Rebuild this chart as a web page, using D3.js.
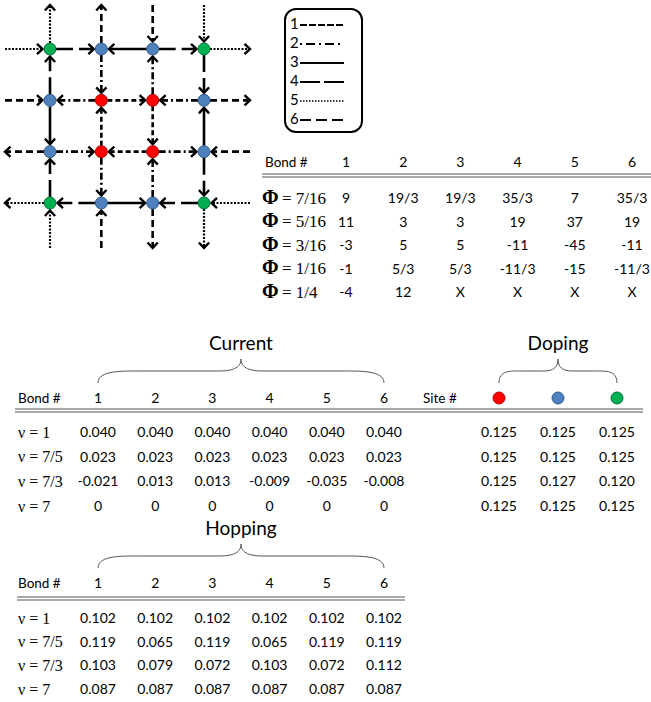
<!DOCTYPE html>
<html>
<head>
<meta charset="utf-8">
<script src="https://cdn.jsdelivr.net/npm/d3@7/dist/d3.min.js"></script>
<style>
  body { margin: 0; background: #fff; }
  svg { display: block; }
</style>
</head>
<body>
<div id="fig"></div>
<script>
// ---- data ----
// site colours on the 4x4 lattice, row by row (g = green, b = blue, r = red)
var siteRows = [
    ["g", "b", "b", "g"],
    ["b", "r", "r", "b"],
    ["b", "r", "r", "b"],
    ["g", "b", "b", "g"]
];
// bonds inside the lattice: [fromRow, fromCol, toRow, toCol, bondType], arrow points at "to"
var bonds = [
    [0, 0, 0, 1, 4], [0, 2, 0, 1, 3], [0, 2, 0, 3, 4],
    [1, 1, 1, 0, 2], [1, 1, 1, 2, 1], [1, 3, 1, 2, 2],
    [2, 0, 2, 1, 2], [2, 2, 2, 1, 1], [2, 2, 2, 3, 2],
    [3, 1, 3, 0, 4], [3, 1, 3, 2, 3], [3, 3, 3, 2, 4],
    [1, 0, 0, 0, 4], [1, 0, 2, 0, 3], [3, 0, 2, 0, 4],
    [0, 1, 1, 1, 2], [2, 1, 1, 1, 1], [2, 1, 3, 1, 2],
    [1, 2, 0, 2, 2], [1, 2, 2, 2, 1], [3, 2, 2, 2, 2],
    [0, 3, 1, 3, 4], [2, 3, 1, 3, 3], [2, 3, 3, 3, 4]
];
// boundary (periodic) bonds: [row, col, side, bondType, inward]
var stubs = [
    [0, 0, "top", 5, false], [0, 1, "top", 6, false], [0, 2, "top", 6, true], [0, 3, "top", 5, true],
    [3, 0, "bottom", 5, true], [3, 1, "bottom", 6, true], [3, 2, "bottom", 6, false], [3, 3, "bottom", 5, false],
    [0, 0, "left", 5, true], [1, 0, "left", 6, true], [2, 0, "left", 6, false], [3, 0, "left", 5, false],
    [0, 3, "right", 5, false], [1, 3, "right", 6, false], [2, 3, "right", 6, true], [3, 3, "right", 5, true]
];
var legendTypes = [1, 2, 3, 4, 5, 6];

var bondIds = ["1", "2", "3", "4", "5", "6"];
var phiLabels = ["7/16", "5/16", "3/16", "1/16", "1/4"];
var phiValues = [
    ["9", "19/3", "19/3", "35/3", "7", "35/3"],
    ["11", "3", "3", "19", "37", "19"],
    ["-3", "5", "5", "-11", "-45", "-11"],
    ["-1", "5/3", "5/3", "-11/3", "-15", "-11/3"],
    ["-4", "12", "X", "X", "X", "X"]
];
var nuLabels = ["1", "7/5", "7/3", "7"];
var currentValues = [
    ["0.040", "0.040", "0.040", "0.040", "0.040", "0.040"],
    ["0.023", "0.023", "0.023", "0.023", "0.023", "0.023"],
    ["-0.021", "0.013", "0.013", "-0.009", "-0.035", "-0.008"],
    ["0", "0", "0", "0", "0", "0"]
];
var siteIds = ["r", "b", "g"];
var dopingValues = [
    ["0.125", "0.125", "0.125"],
    ["0.125", "0.125", "0.125"],
    ["0.125", "0.127", "0.120"],
    ["0.125", "0.125", "0.125"]
];
var hoppingValues = [
    ["0.102", "0.102", "0.102", "0.102", "0.102", "0.102"],
    ["0.119", "0.065", "0.119", "0.065", "0.119", "0.119"],
    ["0.103", "0.079", "0.072", "0.103", "0.072", "0.112"],
    ["0.087", "0.087", "0.087", "0.087", "0.087", "0.087"]
];

// ---- styles ----
var fill   = { r: "#ff0000", b: "#4f81bd", g: "#00b050" };
var edge   = { r: "#b00000", b: "#2f5a8a", g: "#00703a" };
var dashes = { 1: "5,3", 2: "7,3,2,3", 3: null, 4: "17,6", 5: "2,1.5", 6: "7,4" };
var legendDashes = { 1: "7,2", 2: "2,4,9,4", 3: null, 4: "20,4", 5: "1.5,1.5", 6: "11,5" };
var numFont = "Lato, 'Open Sans', sans-serif";
var mathFont = "'Liberation Serif', 'DejaVu Serif', serif";

var svg = d3.select("#fig").append("svg")
    .attr("width", 651)
    .attr("height", 702);

// ---- lattice ----
var NR = 6;
var lx = d3.scalePoint().domain([0, 1, 2, 3]).range([50, 204]);
var ly = d3.scalePoint().domain([0, 1, 2, 3]).range([49, 203]);
var bound = { top: 5, bottom: 248, left: 5, right: 250 };

function chevron(tip, ux, uy) {
    var a = 0.75, L = 7.5, bx = -ux, by = -uy;
    var p1 = [tip[0] + L * (bx * Math.cos(a) - by * Math.sin(a)), tip[1] + L * (bx * Math.sin(a) + by * Math.cos(a))];
    var p2 = [tip[0] + L * (bx * Math.cos(-a) - by * Math.sin(-a)), tip[1] + L * (bx * Math.sin(-a) + by * Math.cos(-a))];
    return "M" + p1 + "L" + tip + "L" + p2;
}

// segment list: from point, to point, whether each end is a node, type
var segs = bonds.map(function (b) {
    return { a: [lx(b[1]), ly(b[0])], z: [lx(b[3]), ly(b[2])], aNode: true, zNode: true, t: b[4] };
});
stubs.forEach(function (s) {
    var n = [lx(s[1]), ly(s[0])], e;
    if (s[2] === "top") e = [n[0], bound.top];
    if (s[2] === "bottom") e = [n[0], bound.bottom];
    if (s[2] === "left") e = [bound.left, n[1]];
    if (s[2] === "right") e = [bound.right, n[1]];
    if (s[4]) segs.push({ a: e, z: n, aNode: false, zNode: true, t: s[3] });
    else segs.push({ a: n, z: e, aNode: true, zNode: false, t: s[3] });
});

var gl = svg.append("g");
segs.forEach(function (s) {
    var dx = s.z[0] - s.a[0], dy = s.z[1] - s.a[1];
    var len = Math.sqrt(dx * dx + dy * dy), ux = dx / len, uy = dy / len;
    var start = s.aNode ? [s.a[0] + ux * NR, s.a[1] + uy * NR] : s.a;
    var tip = s.zNode ? [s.z[0] - ux * (NR + 1.5), s.z[1] - uy * (NR + 1.5)] : s.z;
    gl.append("line")
        .attr("x1", start[0]).attr("y1", start[1])
        .attr("x2", tip[0] - ux * 1.5).attr("y2", tip[1] - uy * 1.5)
        .attr("stroke", "#000")
        .attr("stroke-width", s.t === 5 ? 2.2 : 2.6)
        .attr("stroke-dasharray", dashes[s.t]);
    gl.append("path")
        .attr("d", chevron(tip, ux, uy))
        .attr("fill", "none")
        .attr("stroke", "#000")
        .attr("stroke-width", 2.4);
});

var sites = [];
siteRows.forEach(function (row, r) {
    row.forEach(function (c, k) { sites.push({ r: r, c: k, col: c }); });
});
svg.append("g").selectAll("circle")
    .data(sites)
    .enter()
    .append("circle")
    .attr("cx", function (d) { return lx(d.c); })
    .attr("cy", function (d) { return ly(d.r); })
    .attr("r", NR)
    .attr("fill", function (d) { return fill[d.col]; })
    .attr("stroke", function (d) { return edge[d.col]; })
    .attr("stroke-width", 1);

// ---- legend ----
var leg = svg.append("g");
leg.append("rect")
    .attr("x", 285).attr("y", 9)
    .attr("width", 77).attr("height", 123)
    .attr("rx", 11)
    .attr("fill", "none")
    .attr("stroke", "#000")
    .attr("stroke-width", 2);
var legY = d3.scalePoint().domain(legendTypes).range([24, 119]);
legendTypes.forEach(function (t) {
    leg.append("text")
        .attr("x", 290).attr("y", legY(t))
        .attr("dy", "0.36em")
        .style("font", "15px " + numFont)
        .text(t);
    leg.append("line")
        .attr("x1", 300).attr("x2", 344)
        .attr("y1", legY(t) + 1).attr("y2", legY(t) + 1)
        .attr("stroke", "#000")
        .attr("stroke-width", t === 5 ? 1.6 : 2.2)
        .attr("stroke-dasharray", legendDashes[t]);
});

// ---- helpers for tables ----
function txt(g, x, y, s, size, anchor) {
    return g.append("text")
        .attr("x", x).attr("y", y)
        .attr("dy", "0.36em")
        .attr("text-anchor", anchor || "middle")
        .style("font-family", numFont)
        .style("font-size", size + "px")
        .attr("fill", "#000")
        .text(s);
}
function doubleRule(g, x1, x2, y) {
    [y, y + 3].forEach(function (yy) {
        g.append("line")
            .attr("x1", x1).attr("x2", x2)
            .attr("y1", yy).attr("y2", yy)
            .attr("stroke", "#555")
            .attr("stroke-width", 1);
    });
}
function brace(g, x1, x2, yEnd, yTop) {
    // horizontal curly brace, ends at yEnd, cusp at yTop
    var w = x2 - x1, m = (x1 + x2) / 2, yf = yEnd - 12;
    var e = Math.min(45, w * 0.18), c = Math.min(22, w * 0.12);
    var p = "M" + x1 + "," + yEnd +
        " C" + x1 + "," + (yf - 1) + " " + (x1 + e * 0.55) + "," + yf + " " + (x1 + e) + "," + yf +
        " L" + (m - c) + "," + yf +
        " C" + (m - c * 0.3) + "," + yf + " " + m + "," + (yf - 4) + " " + m + "," + yTop +
        " C" + m + "," + (yf - 4) + " " + (m + c * 0.3) + "," + yf + " " + (m + c) + "," + yf +
        " L" + (x2 - e) + "," + yf +
        " C" + (x2 - e * 0.55) + "," + yf + " " + x2 + "," + (yf - 1) + " " + x2 + "," + yEnd;
    g.append("path")
        .attr("d", p)
        .attr("fill", "none")
        .attr("stroke", "#555")
        .attr("stroke-width", 1);
}
function nuLabel(g, x, y, s) {
    g.append("text")
        .attr("x", x).attr("y", y)
        .attr("dy", "0.36em")
        .style("font-family", mathFont)
        .style("font-size", "16px")
        .attr("fill", "#000")
        .text("ν = " + s);
}
function phiLabel(g, x, y, s) {
    var t = g.append("text")
        .attr("x", x).attr("y", y)
        .attr("dy", "0.36em")
        .style("font-family", mathFont)
        .attr("fill", "#000");
    t.append("tspan").style("font-size", "20px").style("font-weight", "bold").text("Φ");
    t.append("tspan").style("font-size", "17px").text("\u2009= " + s);
}

// ---- flux table ----
var gt = svg.append("g");
var tx = d3.scalePoint().domain(bondIds).range([346, 632]);
var ty = d3.scalePoint().domain(phiLabels).range([198, 292]);
txt(gt, 265, 162, "Bond #", 13.5, "start");
bondIds.forEach(function (b) { txt(gt, tx(b), 162, b, 14); });
doubleRule(gt, 262, 651, 174);
phiLabels.forEach(function (p, i) {
    phiLabel(gt, 262, ty(p), p);
    phiValues[i].forEach(function (v, j) { txt(gt, tx(bondIds[j]), ty(p), v, 14); });
});

// ---- current + doping table ----
var gc = svg.append("g");
var cx = d3.scalePoint().domain(bondIds).range([98, 384]);
var cy = d3.scalePoint().domain(nuLabels).range([432, 506]);
var dx = d3.scalePoint().domain(siteIds).range([499, 617]);
var hy = 398;
txt(gc, (cx("1") + cx("6")) / 2, 343, "Current", 19);
brace(gc, cx("1"), cx("6"), 383, 359);
txt(gc, (dx("r") + dx("g")) / 2, 343, "Doping", 19);
brace(gc, dx("r"), dx("g"), 383, 359);
txt(gc, 18, hy, "Bond #", 13.5, "start");
bondIds.forEach(function (b) { txt(gc, cx(b), hy, b, 14); });
txt(gc, 423, hy, "Site #", 13.5, "start");
gc.selectAll("circle")
    .data(siteIds)
    .enter()
    .append("circle")
    .attr("cx", function (d) { return dx(d); })
    .attr("cy", hy)
    .attr("r", 6)
    .attr("fill", function (d) { return fill[d]; })
    .attr("stroke", function (d) { return edge[d]; })
    .attr("stroke-width", 1);
doubleRule(gc, 15, 643, 409);
nuLabels.forEach(function (n, i) {
    nuLabel(gc, 18, cy(n), n);
    currentValues[i].forEach(function (v, j) { txt(gc, cx(bondIds[j]), cy(n), v, 14); });
    dopingValues[i].forEach(function (v, j) { txt(gc, dx(siteIds[j]), cy(n), v, 14); });
});

// ---- hopping table ----
var gh = svg.append("g");
var hyRow = d3.scalePoint().domain(nuLabels).range([618, 689]);
var hHead = 583;
txt(gh, (cx("1") + cx("6")) / 2, 528, "Hopping", 19);
brace(gh, cx("1"), cx("6"), 568, 544);
txt(gh, 18, hHead, "Bond #", 13.5, "start");
bondIds.forEach(function (b) { txt(gh, cx(b), hHead, b, 14); });
doubleRule(gh, 17, 405, 597);
nuLabels.forEach(function (n, i) {
    nuLabel(gh, 18, hyRow(n), n);
    hoppingValues[i].forEach(function (v, j) { txt(gh, cx(bondIds[j]), hyRow(n), v, 14); });
});
</script>
</body>
</html>
